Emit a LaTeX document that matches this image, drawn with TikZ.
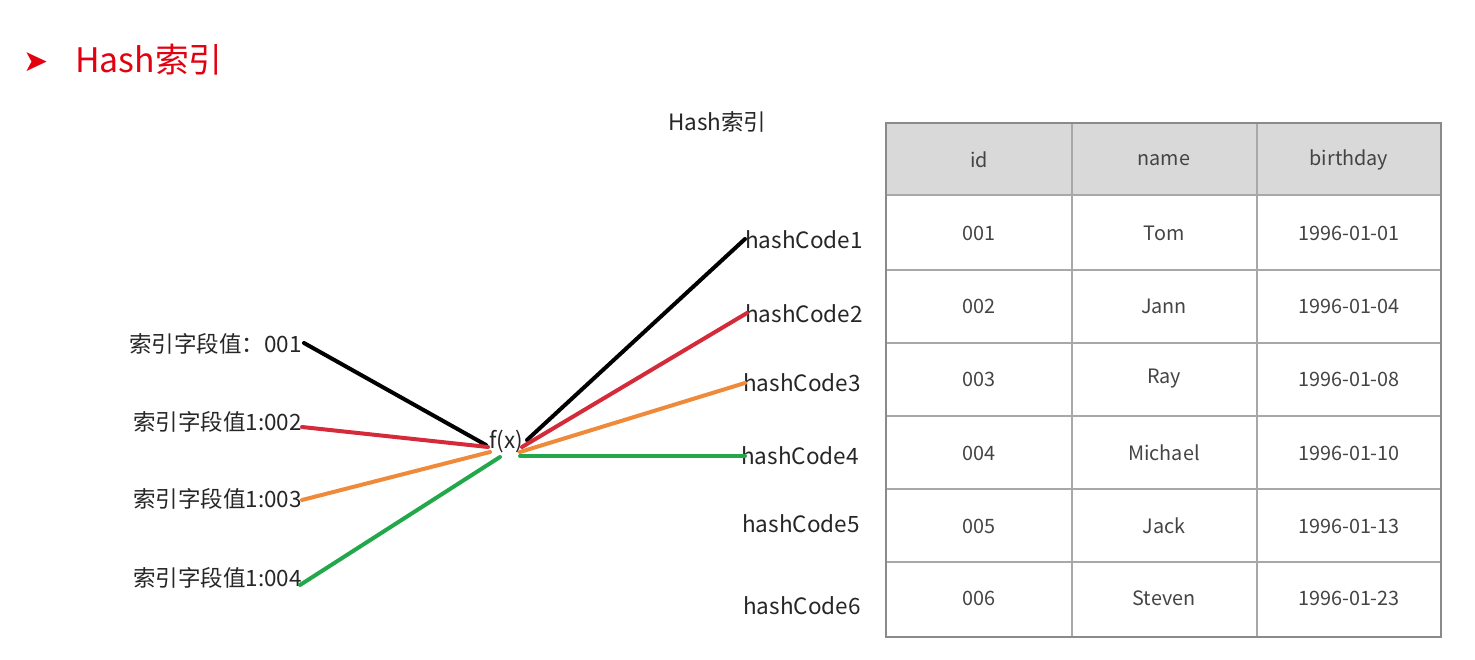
\documentclass[tikz,border=0pt]{standalone}
\usepackage{fontspec}
\setmainfont{Noto Sans CJK SC}
\newfontfamily\symfont{DejaVu Sans}
\definecolor{hred}{HTML}{E3000F}
\definecolor{lred}{HTML}{D42A3A}
\definecolor{lorange}{HTML}{EE8A3A}
\definecolor{lgreen}{HTML}{22A84A}
\definecolor{tgray}{HTML}{444444}
\definecolor{hdr}{HTML}{D9D9D9}
\definecolor{grid}{HTML}{A8A8A8}
\definecolor{outer}{HTML}{8A8A8A}
\begin{document}
\begin{tikzpicture}[x=1pt,y=-1pt,
  lbl/.style={inner sep=0pt, font=\fontsize{22.5}{26}\selectfont, text=black!85},
  cell/.style={inner sep=0pt, font=\fontsize{19.8}{24}\selectfont, text=tgray},
  conn/.style={line width=4pt, line cap=round}]
\useasboundingbox (0,0) rectangle (1475,660);
% title
\node[inner sep=0pt, text=hred, font=\symfont\fontsize{30}{34}\selectfont] (bullet) at (36,62) {➤};
\node[inner sep=0pt, anchor=west, text=hred, font=\fontsize{33.8}{38}\selectfont] (title) at (75,60) {Hash索引};
\node[lbl, anchor=west] (sub) at (668,122) {Hash索引};
% left labels
\node[lbl, anchor=east] (k1) at (302,344) {索引字段值：001};
\node[lbl, anchor=east] (k2) at (302,422) {索引字段值1:002};
\node[lbl, anchor=east] (k3) at (302,499) {索引字段值1:003};
\node[lbl, anchor=east] (k4) at (302,578) {索引字段值1:004};
% f(x)
\node[lbl] (f) at (506,442) {f(x)};
% hash codes
\node[lbl, anchor=west] (h1) at (745,240) {hashCode1};
\node[lbl, anchor=west] (h2) at (745,314) {hashCode2};
\node[lbl, anchor=west] (h3) at (743,383) {hashCode3};
\node[lbl, anchor=west] (h4) at (741,456) {hashCode4};
\node[lbl, anchor=west] (h5) at (742,524) {hashCode5};
\node[lbl, anchor=west] (h6) at (743,606) {hashCode6};
% connector end points
\coordinate (a1) at (304,343); \coordinate (b1) at (486,445);
\coordinate (c1) at (527,440); \coordinate (d1) at (745,239);
\coordinate (a2) at (302,427); \coordinate (b2) at (488,447);
\coordinate (c2) at (522,447); \coordinate (d2) at (747,313);
\coordinate (a3) at (302,500); \coordinate (b3) at (490,452);
\coordinate (c3) at (520,452); \coordinate (d3) at (745,383);
\coordinate (a4) at (300,585); \coordinate (b4) at (500,457);
\coordinate (c4) at (520,456); \coordinate (d4) at (745,456);
\draw[conn, black] (a1) -- (b1); \draw[conn, black] (c1) -- (d1);
\draw[conn, lred] (a2) -- (b2); \draw[conn, lred] (c2) -- (d2);
\draw[conn, lorange] (a3) -- (b3); \draw[conn, lorange] (c3) -- (d3);
\draw[conn, lgreen] (a4) -- (b4); \draw[conn, lgreen] (c4) -- (d4);
% table
\fill[hdr] (886,123) rectangle (1441,195);
\foreach \y in {195,270,343,416,489,562} \draw[grid, line width=1.5pt] (886,\y) -- (1441,\y);
\foreach \x in {1072,1257} \draw[grid, line width=1.5pt] (\x,123) -- (\x,637);
\draw[outer, line width=2pt] (886,123) rectangle (1441,637);
\node[cell] (t0a) at (979,160) {id};
\node[cell] (t0b) at (1164,160) {name};
\node[cell] (t0c) at (1349,160) {birthday};
\node[cell] (t1a) at (979,233) {001};
\node[cell] (t1b) at (1164,233) {Tom};
\node[cell] (t1c) at (1349,233) {1996-01-01};
\node[cell] (t2a) at (979,306) {002};
\node[cell] (t2b) at (1164,306) {Jann};
\node[cell] (t2c) at (1349,306) {1996-01-04};
\node[cell] (t3a) at (979,379) {003};
\node[cell] (t3b) at (1164,379) {Ray};
\node[cell] (t3c) at (1349,379) {1996-01-08};
\node[cell] (t4a) at (979,453) {004};
\node[cell] (t4b) at (1164,453) {Michael};
\node[cell] (t4c) at (1349,453) {1996-01-10};
\node[cell] (t5a) at (979,526) {005};
\node[cell] (t5b) at (1164,526) {Jack};
\node[cell] (t5c) at (1349,526) {1996-01-13};
\node[cell] (t6a) at (979,598) {006};
\node[cell] (t6b) at (1164,598) {Steven};
\node[cell] (t6c) at (1349,598) {1996-01-23};
\end{tikzpicture}
\end{document}
